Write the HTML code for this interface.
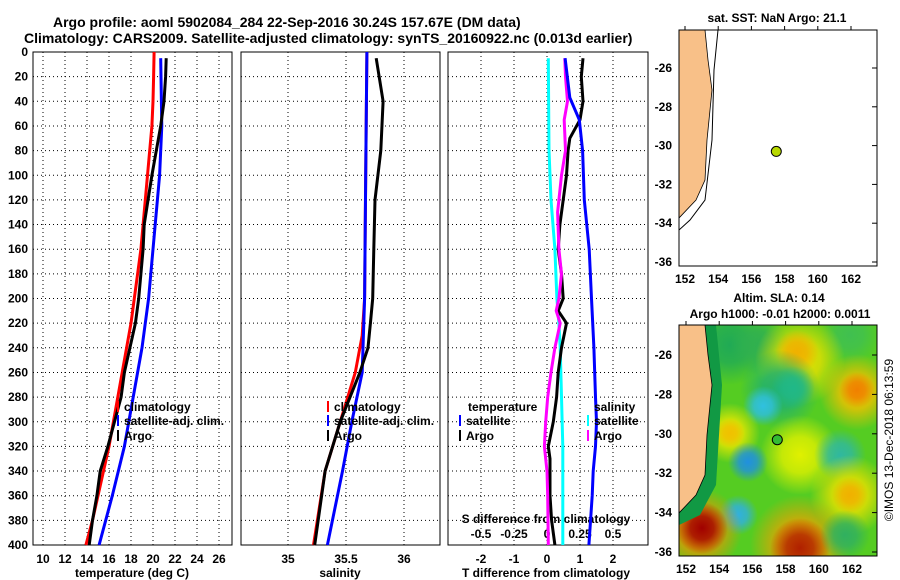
<!DOCTYPE html>
<html><head><meta charset="utf-8"><style>
body{margin:0;background:#fff}
svg{display:block;font-family:"Liberation Sans",sans-serif;font-weight:bold}
</style></head><body>
<svg id="c" width="900" height="580" viewBox="0 0 900 580" xmlns="http://www.w3.org/2000/svg">
<rect width="900" height="580" fill="#fff"/>
<text x="53" y="27" font-size="14">Argo profile: aoml 5902084_284 22-Sep-2016 30.24S 157.67E (DM data)</text>
<text x="24" y="43" font-size="14">Climatology: CARS2009. Satellite-adjusted climatology: synTS_20160922.nc (0.013d earlier)</text>
<g id="g"></g>
</svg>
<script>
const depthTicks=[0,20,40,60,80,100,120,140,160,180,200,220,240,260,280,300,320,340,360,380,400];
const tTicks=[10,12,14,16,18,20,22,24,26];
const sTicks=[35,35.5,36];
const tdTicks=[-2,-1,0,1,2];
const sdTicks=[-0.5,-0.25,0,0.25,0.5];
const sdLabels=["-0.5","-0.25","0","0.25","0.5"];
const latTicks=[-26,-28,-30,-32,-34,-36];
const lonTicks=[152,154,156,158,160,162];
// temperature profiles
const climTd=[0,20,40,60,80,100,120,140,160,180,200,220,240,260,280,300,320,340,360,380,400];
const climT=[20.1,20.05,20.0,19.9,19.7,19.5,19.3,19.1,18.9,18.6,18.3,18.0,17.6,17.2,16.8,16.4,16.0,15.5,15.0,14.5,13.9];
const satTd=[5,60,100,160,200,240,280,320,360,400];
const satT=[20.7,20.8,20.6,20.0,19.6,19.0,18.2,17.4,16.3,15.1];
const argoTd=[5,20,40,60,80,100,140,160,200,220,240,260,280,300,320,340,360,380,400];
const argoT=[21.2,21.15,21.0,20.7,20.3,19.9,19.2,19.1,18.7,18.4,17.9,17.4,17.1,16.5,15.9,15.2,14.9,14.5,14.2];
// salinity profiles
const climSd=[0,100,200,230,260,300,340,400];
const climS=[35.68,35.67,35.66,35.64,35.58,35.45,35.32,35.22];
const satSd=[0,100,200,260,300,340,400];
const satS=[35.68,35.67,35.66,35.64,35.55,35.47,35.34];
const argoSd=[5,40,80,120,160,200,220,240,260,300,340,400];
const argoS=[35.76,35.82,35.8,35.75,35.74,35.73,35.71,35.69,35.62,35.45,35.32,35.23];
// differences
const dTsatD=[5,37,55,80,120,160,200,240,280,300,320,340,360,400];
const dTsat=[0.55,0.69,0.98,1.08,1.13,1.28,1.35,1.42,1.47,1.5,1.47,1.4,1.37,1.27];
const dTargoD=[5,20,40,55,70,80,100,120,140,160,180,200,210,220,240,260,280,300,320,330,340,360,380,400];
const dTargo=[1.09,1.04,1.09,1.0,0.69,0.64,0.59,0.49,0.39,0.34,0.44,0.49,0.34,0.59,0.44,0.34,0.29,0.19,0.04,0.09,0.09,0.09,0.14,0.24];
const dSsatD=[5,80,120,160,200,220,240,280,320,400];
const dSsat=[0.01,0.015,0.03,0.06,0.075,0.09,0.1,0.11,0.12,0.12];
const dSargoD=[5,20,40,55,80,100,130,160,180,200,210,220,240,260,280,300,320,340,360,400];
const dSargo=[0.135,0.14,0.155,0.13,0.14,0.11,0.08,0.09,0.11,0.09,0.07,0.1,0.06,0.03,0.005,-0.01,-0.02,0,0.005,0.01];

const NS="http://www.w3.org/2000/svg";
const G=document.getElementById('g');
function mk(t,a,p){const e=document.createElementNS(NS,t);for(const k in a)e.setAttribute(k,a[k]);(p||G).appendChild(e);return e;}
const Y0=52,Y1=545;
const yD=d=>Y0+d/400*(Y1-Y0);
const xT=t=>43+(t-10)*11;
const xS=s=>288+(s-35)*116;
const xTd=t=>547+t*33;
const xSd=s=>547+s*132;
function frame(x0,x1,name){
  const r=mk('rect',{x:x0,y:Y0,width:x1-x0,height:Y1-Y0,fill:'none',stroke:'#000','stroke-width':1});
  
  
  depthTicks.forEach(d=>{mk('line',{x1:x0,x2:x1,y1:yD(d),y2:yD(d),stroke:'#000','stroke-dasharray':'1,3','stroke-width':1});});
}
function vgrid(x0,x1,ticks,fx,labels,ly){
  ticks.forEach((t,i)=>{const x=fx(t);
    mk('line',{x1:x,x2:x,y1:Y0,y2:Y1,stroke:'#000','stroke-dasharray':'1,3'});
    const tx=mk('text',{x:x,y:ly,'font-size':12,'text-anchor':'middle'});tx.textContent=labels?labels[i]:t;
    
    
  });
}
function line(ds,vs,fx,col,name){
  const pts=ds.map((d,i)=>fx(vs[i]).toFixed(1)+','+yD(d).toFixed(1)).join(' ');
  const p=mk('polyline',{points:pts,fill:'none',stroke:col,'stroke-width':3});
  
  
}
function txt(x,y,s,opt,name){const t=mk('text',Object.assign({x:x,y:y,'font-size':12},opt||{}));t.textContent=s;
  
  return t;}
// panel 1
frame(33,232,'temperature-panel');
vgrid(33,232,tTicks,xT,null,563);
depthTicks.forEach(d=>{txt(28,yD(d)+4,String(d),{'text-anchor':'end'},'y-tick-label');});
line(climTd,climT,xT,'#f00','climatology-temp-line');
line(satTd,satT,xT,'#00f','satellite-temp-line');
line(argoTd,argoT,xT,'#000','argo-temp-line');
txt(132,577,'temperature (deg C)',{'text-anchor':'middle'},'x-axis-title-temp');
const LY=[411,425,440];
[['#f00','climatology',LY[0]],['#00f','satellite-adj. clim.',LY[1]],['#000','Argo',LY[2]]].forEach(a=>{
  mk('line',{x1:118,x2:118,y1:a[2]-10,y2:a[2]+1,stroke:a[0],'stroke-width':2});
  txt(124,a[2],a[1],{},'legend-entry');});
// panel 2
frame(241,440,'salinity-panel');
vgrid(241,440,sTicks,xS,null,563);
line(climSd,climS,xS,'#f00','climatology-sal-line');
line(satSd,satS,xS,'#00f','satellite-sal-line');
line(argoSd,argoS,xS,'#000','argo-sal-line');
txt(340,577,'salinity',{'text-anchor':'middle'},'x-axis-title-sal');
[['#f00','climatology',LY[0]],['#00f','satellite-adj. clim.',LY[1]],['#000','Argo',LY[2]]].forEach(a=>{
  mk('line',{x1:328,x2:328,y1:a[2]-10,y2:a[2]+1,stroke:a[0],'stroke-width':2});
  txt(334,a[2],a[1],{},'legend-entry');});
// panel 3
frame(448,648,'difference-panel');
vgrid(448,648,tdTicks,xTd,null,563);
sdTicks.forEach((s,i)=>txt(xSd(s),538,sdLabels[i],{'text-anchor':'middle'},'s-diff-tick-label'));
txt(546,523,'S difference from climatology',{'text-anchor':'middle'},'s-diff-axis-title');
line(dSsatD,dSsat,xSd,'#0ff','satellite-sal-diff-line');
line(dTargoD,dTargo,xTd,'#000','argo-temp-diff-line');
line(dSargoD,dSargo,xSd,'#f0f','argo-sal-diff-line');
line(dTsatD,dTsat,xTd,'#00f','satellite-temp-diff-line');
txt(546,577,'T difference from climatology',{'text-anchor':'middle'},'x-axis-title-diff');
txt(468,LY[0],'temperature',{},'legend-header-temp');
txt(594,LY[0],'salinity',{},'legend-header-sal');
[['#00f','satellite',LY[1],460],['#000','Argo',LY[2],460],['#0ff','satellite',LY[1],588],['#f0f','Argo',LY[2],588]].forEach(a=>{
  mk('line',{x1:a[3],x2:a[3],y1:a[2]-10,y2:a[2]+1,stroke:a[0],'stroke-width':2});
  txt(a[3]+6,a[2],a[1],{},'legend-entry');});
// maps
function map(y0,y1,latY0,latY1,lonX,name,sla){
  const fx=l=>lonX+(l-152)*16.6, fy=l=>latY0+(-26-l)*(latY1-latY0)/10;
  const g=mk('g',{});
  
  
  mk('clipPath',{id:'cp'+y0},g);
  mk('rect',{x:679,y:y0,width:198,height:y1-y0},document.getElementById('cp'+y0));
  const inner=mk('g',{'clip-path':'url(#cp'+y0+')'},g);
  mk('rect',{x:679,y:y0,width:198,height:y1-y0,fill:sla?'#55cc22':'#fff'},inner);
  if(sla){
    const blobs=[[730,345,40,'#20aa55'],[760,345,30,'#30b050'],[850,335,30,'#40c050'],[800,360,45,'#e8e000'],[797,352,22,'#f0b000'],[857,392,38,'#f0c000'],[857,390,18,'#f08000'],[780,390,40,'#20b070'],[793,388,22,'#20b888'],[763,406,20,'#30c0e0'],[730,433,30,'#e8e800'],[730,433,15,'#f0c000'],[800,455,40,'#e0f000'],[840,455,26,'#30b8a0'],[748,462,20,'#2090e0'],[850,495,40,'#e8e000'],[850,495,18,'#f0b000'],[738,515,20,'#30b0e0'],[700,530,42,'#f09000'],[702,528,26,'#a00000'],[800,545,50,'#f0a000'],[800,548,30,'#b02000'],[845,535,25,'#30b060']];
    blobs.forEach((b,i)=>{const id='rg'+i;
      const rg=mk('radialGradient',{id:id},inner);mk('stop',{offset:'0','stop-color':b[3],'stop-opacity':1},rg);mk('stop',{offset:'0.45','stop-color':b[3],'stop-opacity':0.8},rg);mk('stop',{offset:'1','stop-color':b[3],'stop-opacity':0},rg);
      mk('circle',{cx:b[0],cy:b[1],r:b[2],fill:'url(#'+id+')'},inner);});
    mk('path',{d:`M679,${y0} L716,${y0} L722,${y0+60} L716,${y0+160} L700,${y0+190} L679,${y0+200}Z`,fill:'#119944'},inner);
  } else {
    mk('path',{d:`M718,${y0} L714,${y0+40} L712,${y0+110} L705,${y0+170} L690,${y0+190} L679,${y0+200}`,fill:'none',stroke:'#000'},inner);
  }
  mk('path',{d:`M679,${y0} L705,${y0} L708,${y0+30} L712,${y0+60} L707,${y0+110} L705,${y0+150} L696,${y0+170} L679,${y0+188}Z`,fill:'#f8c088',stroke:'#000','stroke-width':0.8},inner);
  mk('rect',{x:679,y:y0,width:198,height:y1-y0,fill:'none',stroke:'#000'},g);
  const dot=mk('circle',{cx:fx(157.5),cy:fy(-30.3),r:5,fill:sla?'#33bb33':'#b8d800',stroke:'#000'},g);
  
  
  latTicks.forEach(l=>{txt(672,fy(l)+4,String(l),{'text-anchor':'end'},'lat-tick-label');
    mk('line',{x1:872,x2:877,y1:fy(l),y2:fy(l),stroke:'#000'},g);});
  lonTicks.forEach(l=>{txt(fx(l),y1+17,String(l),{'text-anchor':'middle'},'lon-tick-label');
    mk('line',{x1:fx(l),x2:fx(l),y1:y0,y2:y0-4,stroke:'#000'},g);});
}
txt(777,22,'sat. SST: NaN Argo: 21.1',{'text-anchor':'middle'},'sst-map-title');
map(30,266,68,262,685,'sst-map',false);
txt(779,302,'Altim. SLA: 0.14',{'text-anchor':'middle'},'sla-map-title');
txt(780,318,'Argo h1000: -0.01 h2000: 0.0011',{'text-anchor':'middle'},'sla-map-subtitle');
map(325,556,355,552,686,'sla-map',true);
txt(0,0,'©IMOS 13-Dec-2018 06:13:59',{'font-weight':'normal','text-anchor':'middle',transform:'translate(893,440) rotate(-90)'},'imos-timestamp');
</script>
</body></html>
